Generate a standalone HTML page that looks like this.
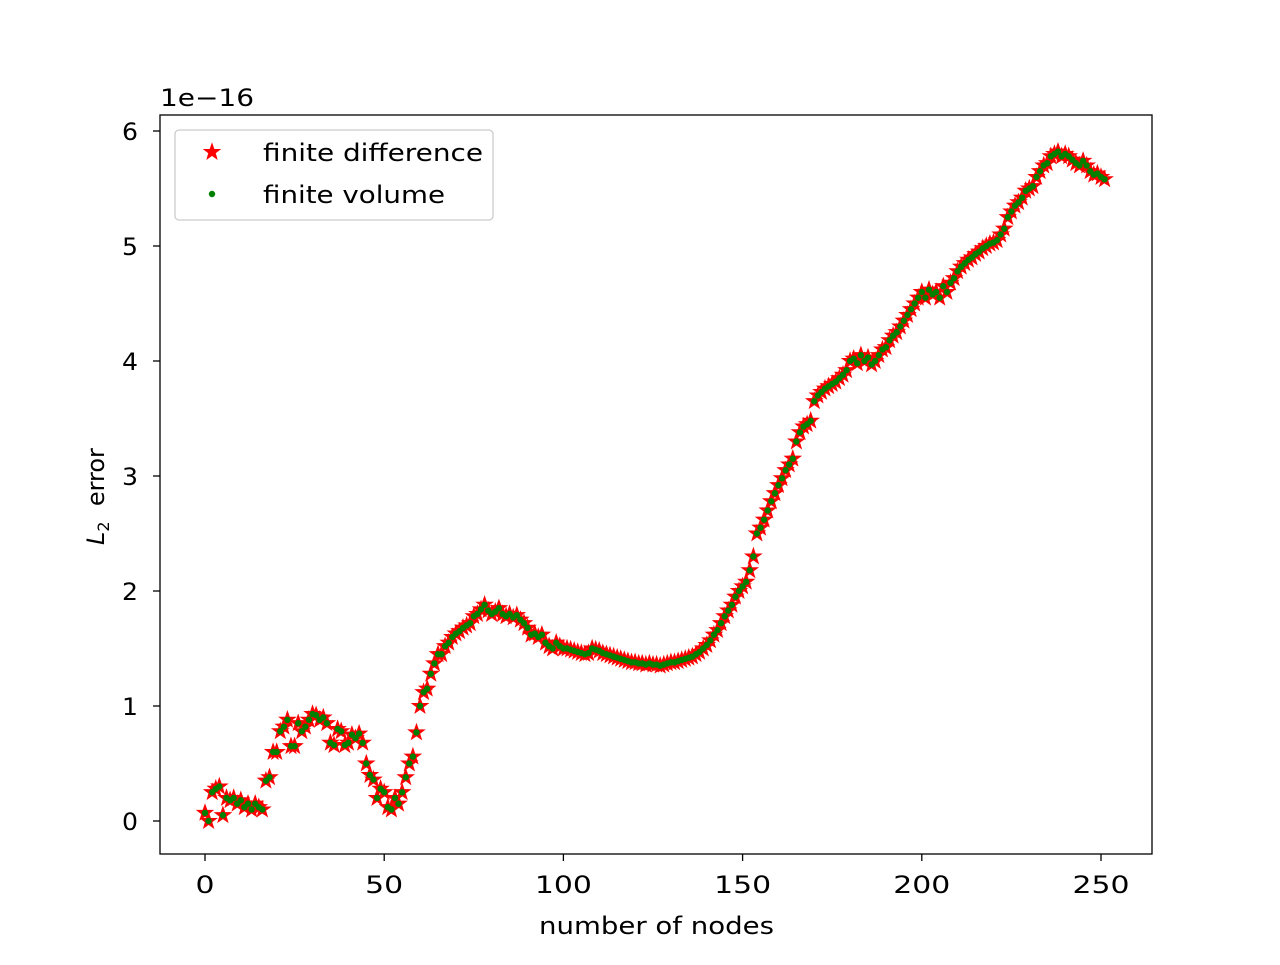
<!DOCTYPE html>
<html><head><meta charset="utf-8"><style>
body{margin:0;background:#fff}
svg{font-family:"DejaVu Sans","Liberation Sans",sans-serif}
</style></head><body>
<svg id="chart" width="1280" height="960" xmlns="http://www.w3.org/2000/svg">
<rect width="1280" height="960" fill="#fff"/>
<g id="marks"></g>
<rect x="160" y="115" width="992" height="739" fill="none" stroke="#000" stroke-width="1.3"/>
<g id="xt"></g><g id="yt"></g>
<text x="160" y="106" font-size="24" textLength="94" lengthAdjust="spacingAndGlyphs">1e−16</text>
<text x="539" y="934" font-size="24" textLength="235" lengthAdjust="spacingAndGlyphs">number of nodes</text>
<text transform="translate(104,545) rotate(-90)" font-size="24"><tspan font-style="italic">L</tspan><tspan font-size="16" dy="5">2</tspan><tspan dy="-5" xml:space="preserve">  error</tspan></text>
<g>
<rect x="175" y="130" width="318" height="90" rx="4" fill="#fff" fill-opacity="0.8" stroke="#ccc" stroke-width="1.3"/>
<g>
<path id="lstar" fill="red" stroke="red" stroke-width="1.5"/>
<text x="263" y="161" font-size="24" textLength="220" lengthAdjust="spacingAndGlyphs">finite difference</text></g>
<g>
<circle cx="212" cy="194" r="3.2" fill="green"/>
<text x="263" y="203" font-size="24" textLength="182" lengthAdjust="spacingAndGlyphs">finite volume</text></g>
</g>
</svg>
<script>
const fdValues=[0.07,0.0,0.25,0.28,0.3,0.05,0.2,0.18,0.2,0.15,0.18,0.12,0.15,0.1,0.15,0.12,0.1,0.35,0.38,0.6,
0.6,0.78,0.82,0.88,0.65,0.65,0.85,0.78,0.82,0.88,0.93,0.92,0.88,0.9,0.85,0.68,0.66,0.8,0.78,0.66,
0.68,0.75,0.72,0.76,0.68,0.5,0.4,0.36,0.2,0.28,0.25,0.12,0.1,0.2,0.15,0.25,0.38,0.5,0.56,0.77,
1.0,1.12,1.15,1.28,1.37,1.45,1.45,1.52,1.55,1.6,1.63,1.65,1.68,1.7,1.72,1.78,1.8,1.84,1.88,1.83,
1.8,1.82,1.85,1.8,1.78,1.8,1.77,1.79,1.75,1.72,1.68,1.62,1.63,1.6,1.62,1.55,1.52,1.5,1.55,1.52,
1.5,1.5,1.49,1.48,1.47,1.46,1.45,1.46,1.5,1.49,1.48,1.46,1.45,1.44,1.43,1.42,1.41,1.4,1.39,1.38,1.38,
1.37,1.37,1.36,1.37,1.36,1.36,1.35,1.36,1.37,1.38,1.38,1.39,1.4,1.41,1.42,1.43,1.45,1.47,1.5,1.53,
1.57,1.62,1.66,1.72,1.78,1.83,1.88,1.95,2.0,2.04,2.08,2.18,2.3,2.5,2.55,2.62,2.7,2.78,2.85,2.92,
2.98,3.05,3.1,3.15,3.3,3.38,3.43,3.45,3.48,3.65,3.7,3.73,3.76,3.78,3.8,3.82,3.85,3.88,3.92,4.0,
4.02,3.98,4.05,4.0,4.03,3.97,4.0,4.05,4.1,4.12,4.18,4.22,4.25,4.3,4.35,4.4,4.45,4.5,4.55,4.6,
4.55,4.62,4.58,4.6,4.55,4.65,4.6,4.68,4.72,4.78,4.82,4.85,4.88,4.9,4.93,4.95,4.98,5.0,5.02,5.03,
5.05,5.1,5.15,5.25,5.3,5.35,5.38,5.42,5.48,5.5,5.52,5.6,5.65,5.7,5.72,5.78,5.8,5.82,5.78,5.8,
5.78,5.75,5.72,5.7,5.74,5.7,5.65,5.62,5.63,5.6,5.58];
const fvValues=fdValues.slice();
const xTicks=[0,50,100,150,200,250];
const yTicks=[0,1,2,3,4,5,6];
const X=v=>205+v*(1101-205)/250;
const Y=v=>821-v*115;
const NS="http://www.w3.org/2000/svg";
function star(cx,cy,R){const r=R*0.4;let d="";for(let i=0;i<10;i++){const a=-Math.PI/2+i*Math.PI/5;const rr=i%2?r:R;d+=(i?"L":"M")+(cx+rr*Math.cos(a)).toFixed(1)+","+(cy+rr*Math.sin(a)).toFixed(1);}return d+"Z";}
document.getElementById('lstar').setAttribute('d',star(212,152,7.5));
const m=document.getElementById('marks');
fdValues.forEach((v,i)=>{const p=document.createElementNS(NS,'path');
p.setAttribute('d',star(X(i),Y(v),7.5));p.setAttribute('fill','red');p.setAttribute('stroke','red');p.setAttribute('stroke-width','1.5');


m.appendChild(p);});
fvValues.forEach((v,i)=>{const c=document.createElementNS(NS,'circle');
c.setAttribute('cx',X(i));c.setAttribute('cy',Y(v));c.setAttribute('r',3.2);c.setAttribute('fill','green');


m.appendChild(c);});
const xt=document.getElementById('xt');
xTicks.forEach(t=>{const g=document.createElementNS(NS,'g');


const w=String(t).length*19;
g.innerHTML=`<line x1="${X(t)}" x2="${X(t)}" y1="854" y2="861" stroke="#000" stroke-width="1.3"/><text x="${X(t)}" y="893" font-size="24" text-anchor="middle" textLength="${w}" lengthAdjust="spacingAndGlyphs">${t}</text>`;xt.appendChild(g);});
const yt=document.getElementById('yt');
yTicks.forEach(t=>{const g=document.createElementNS(NS,'g');


g.innerHTML=`<line x1="153" x2="160" y1="${Y(t)}" y2="${Y(t)}" stroke="#000" stroke-width="1.3"/><text x="138" y="${Y(t)+9}" font-size="24" text-anchor="end" textLength="16" lengthAdjust="spacingAndGlyphs">${t}</text>`;yt.appendChild(g);});
</script>
</body></html>
